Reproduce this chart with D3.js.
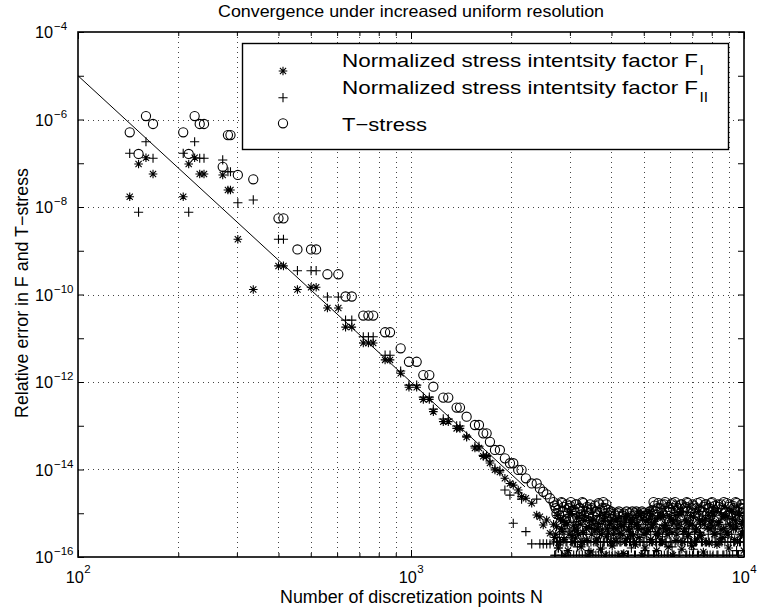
<!DOCTYPE html>
<html><head><meta charset="utf-8">
<script src="https://cdn.jsdelivr.net/npm/d3@7"></script>
<style>body{margin:0;background:#fff}svg{display:block}</style>
</head><body><svg id="c" width="757" height="614"></svg>
<script>
// ---------- data ----------
const pointsN = [143,152,160,168,207,215,224,232,239,272,282,287,302,336,400,414,456,501,519,561,605,636,664,719,745,770,836,865,931,986,1040,1089,1135,1167,1250,1294,1371,1403,1469,1556,1600,1648,1687,1726,1787,1849,1914,1982,2028,2099,2148,2213,2304,2385,2438,2495,2555,2615,
2680,2720,2750,2790,2830,2860,2900,2940,2980,3020,3060,3100,3140,3180,3220,3270,3310,3360,3400,3450,3490,3540,3590,3640,3680,3730,3780,3830,3890,3940,3990,4050,4100,4160,4210,4270,4330,4380,4440,4500,4560,4620,4690,4750,4810,4880,4940,5010,5080,5140,5210,5280,5350,5430,5500,5570,5650,5730,5800,5880,5960,6040,6120,6210,6290,6380,6460,6550,6640,6730,6820,6910,7010,7100,7200,7300,7400,7500,7600,7700,7810,7910,8020,8130,8240,8350,8470,8580,8700,8820,8940,9060,9180,9310,9440,9560,9690,9830,9960,
2700,2735,2770,2810,2845,2880,2920,2960,3000,3040,3080,3120,3160,3200,3245,3290,3335,3380,3425,3470,3515,3565,3615,3660,3705,3755,3805,3860,3915,3965,4020,4075,4130,4185,4240,4300,4355,4410,4470,4530,4590,4655,4720,4780,4845,4910,4975,5045,5110,5175,5245,5315,5390,5465,5535,5610,5690,5765,5840,5920,6000,6080,6165,6250,6335,6420,6505,6595,6685,6775,6865,6960,7055,7150,7250,7350,7450,7550,7650,7755,7860,7965,8075,8185,8295,8410,8525,8640,8760,8880,9000,9120,9245,9375,9500,9625,9760,9895,9990];

const errFI = [1.72e-8,9.6e-8,1.34e-7,5.7e-8,1.72e-8,9.6e-8,1.34e-7,5.7e-8,5.7e-8,5.4e-8,2.45e-8,2.45e-8,1.83e-9,1.3e-10,4.5e-10,4.5e-10,1.3e-10,1.46e-10,1.46e-10,4.9e-11,4.9e-11,1.8e-11,1.8e-11,7.8e-12,7.8e-12,7.8e-12,3.2e-12,3.2e-12,1.58e-12,7.6e-13,7.6e-13,4.0e-13,4.0e-13,2.1e-13,1.24e-13,1.24e-13,8.7e-14,8.7e-14,5.5e-14,3.1e-14,3.1e-14,2.0e-14,2.0e-14,1.41e-14,9.8e-15,8.8e-15,6.3e-15,4.8e-15,4.4e-15,3.4e-15,2.4e-15,2.2e-15,1.69e-15,9.1e-16,8.3e-16,5.4e-16,7.0e-16,3.5e-16,
5.6e-16,3.3e-16,8.9e-16,2.2e-16,4.4e-16,6.7e-16,1.1e-16,5.6e-16,3.3e-16,1.1e-15,
2.2e-16,4.4e-16,7.8e-16,3.3e-16,5.6e-16,2.2e-16,8.9e-16,4.4e-16,1.1e-16,6.7e-16,
3.3e-16,5.6e-16,2.2e-16,4.4e-16,8.9e-16,3.3e-16,6.7e-16,1.1e-16,4.4e-16,5.6e-16,
2.2e-16,3.3e-16,6.7e-16,4.4e-16,1.1e-16,5.6e-16,3.3e-16,2.2e-16,7.8e-16,4.4e-16,
3.3e-16,6.7e-16,2.2e-16,5.6e-16,4.4e-16,8.9e-16,1.1e-16,3.3e-16,6.7e-16,4.4e-16,
1.1e-15,2.2e-16,5.6e-16,3.3e-16,7.8e-16,4.4e-16,2.2e-16,8.9e-16,5.6e-16,3.3e-16,
4.4e-16,6.7e-16,1.1e-16,8.9e-16,3.3e-16,5.6e-16,1.1e-15,2.2e-16,4.4e-16,6.7e-16,
3.3e-16,8.9e-16,5.6e-16,2.2e-16,4.4e-16,1.1e-15,3.3e-16,6.7e-16,5.6e-16,2.2e-16,
8.9e-16,4.4e-16,6.7e-16,3.3e-16,1.1e-15,5.6e-16,2.2e-16,7.8e-16,4.4e-16,8.9e-16,
3.3e-16,5.6e-16,1.1e-15,4.4e-16,6.7e-16,2.2e-16,8.9e-16,5.6e-16,3.3e-16,
2.8e-16,4.9e-16,1.6e-16,7.1e-16,3.8e-16,2.5e-16,6.2e-16,1.4e-16,9.5e-16,3.1e-16,
5.3e-16,2.7e-16,4.1e-16,8.2e-16,1.7e-16,3.6e-16,6.8e-16,2.4e-16,4.7e-16,1.3e-16,
7.4e-16,3.9e-16,2.6e-16,5.8e-16,1.5e-16,4.3e-16,9.1e-16,2.9e-16,3.5e-16,6.4e-16,
1.8e-16,4.6e-16,2.3e-16,7.6e-16,3.4e-16,5.1e-16,1.2e-16,8.4e-16,2.7e-16,4.2e-16,
6.1e-16,3.2e-16,1.9e-16,5.5e-16,2.8e-16,9.8e-16,4.4e-16,1.6e-16,3.7e-16,7.2e-16,
2.5e-16,4.8e-16,6.6e-16,1.4e-16,3.3e-16,8.7e-16,2.2e-16,5.2e-16,4.1e-16,1.7e-16,
7.8e-16,3.6e-16,5.9e-16,2.4e-16,4.5e-16,9.3e-16,1.5e-16,3.8e-16,6.3e-16,2.9e-16,
5.4e-16,1.8e-16,8.1e-16,4.2e-16,2.6e-16,6.9e-16,3.1e-16,1.3e-16,7.5e-16,4.6e-16,
2.1e-16,5.7e-16,9.6e-16,3.4e-16,1.9e-16,6.2e-16,4.3e-16,2.8e-16,8.5e-16,3.7e-16,
1.6e-16,5.1e-16,7.3e-16,2.5e-16,4.9e-16,1.0e-15,3.2e-16,6.5e-16,1.4e-16];

const errFII = [1.69e-7,7.6e-9,3.1e-7,1.3e-7,1.69e-7,7.6e-9,3.1e-7,1.3e-7,1.3e-7,1.19e-7,6.4e-8,6.4e-8,1.25e-8,1.45e-8,1.83e-9,1.83e-9,3.5e-10,3.5e-10,3.5e-10,8.8e-11,8.8e-11,2.6e-11,2.6e-11,1.08e-11,1.08e-11,1.08e-11,4.1e-12,4.1e-12,1.78e-12,8.5e-13,8.5e-13,4.5e-13,4.5e-13,2.4e-13,1.43e-13,1.43e-13,9.9e-14,9.9e-14,5.8e-14,3.4e-14,3.4e-14,2.1e-14,2.1e-14,1.56e-14,1.08e-14,9.5e-15,3.4e-15,2.6e-15,5.9e-16,2.9e-15,2.1e-15,3.8e-16,2.0e-16,2.1e-15,2.0e-16,2.0e-16,2.0e-16,2.0e-16,
2.2e-16,1.1e-16,2.2e-16,3.3e-16,1.1e-16,2.2e-16,4.4e-16,2.2e-16,1.1e-16,2.2e-16,
3.3e-16,2.2e-16,1.1e-16,5.6e-16,2.2e-16,1.1e-16,2.2e-16,3.3e-16,2.2e-16,1.1e-16,
4.4e-16,2.2e-16,1.1e-16,2.2e-16,3.3e-16,1.1e-16,2.2e-16,6.7e-16,2.2e-16,1.1e-16,
2.2e-16,4.4e-16,1.1e-16,2.2e-16,3.3e-16,2.2e-16,1.1e-16,5.6e-16,2.2e-16,1.1e-16,
2.2e-16,3.3e-16,1.1e-16,2.2e-16,4.4e-16,2.2e-16,1.1e-16,2.2e-16,3.3e-16,1.1e-16,
2.2e-16,5.6e-16,1.1e-16,2.2e-16,3.3e-16,2.2e-16,1.1e-16,4.4e-16,2.2e-16,1.1e-16,
3.3e-16,2.2e-16,1.1e-16,2.2e-16,6.7e-16,1.1e-16,2.2e-16,3.3e-16,2.2e-16,1.1e-16,
4.4e-16,2.2e-16,1.1e-16,3.3e-16,2.2e-16,1.1e-16,5.6e-16,2.2e-16,1.1e-16,2.2e-16,
3.3e-16,1.1e-16,2.2e-16,4.4e-16,2.2e-16,1.1e-16,3.3e-16,2.2e-16,1.1e-16,5.6e-16,
2.2e-16,1.1e-16,3.3e-16,2.2e-16,4.4e-16,1.1e-16,2.2e-16,3.3e-16,2.2e-16,
1.1e-16,2.2e-16,1.6e-16,2.2e-16,1.1e-16,2.8e-16,2.2e-16,1.1e-16,3.9e-16,2.2e-16,
1.1e-16,2.2e-16,1.7e-16,1.1e-16,2.2e-16,3.3e-16,1.1e-16,2.2e-16,1.4e-16,2.2e-16,
1.1e-16,4.4e-16,2.2e-16,1.1e-16,2.2e-16,1.6e-16,2.2e-16,1.1e-16,3.3e-16,2.2e-16,
1.1e-16,2.2e-16,2.7e-16,1.1e-16,2.2e-16,1.1e-16,4.9e-16,2.2e-16,1.1e-16,2.2e-16,
1.6e-16,2.2e-16,1.1e-16,3.3e-16,2.2e-16,1.1e-16,2.2e-16,1.4e-16,2.2e-16,1.1e-16,
3.8e-16,2.2e-16,1.1e-16,2.2e-16,1.1e-16,2.2e-16,2.9e-16,1.1e-16,2.2e-16,1.1e-16,
2.2e-16,1.7e-16,1.1e-16,4.4e-16,2.2e-16,1.1e-16,2.2e-16,3.3e-16,1.1e-16,2.2e-16,
1.1e-16,2.2e-16,1.5e-16,2.2e-16,1.1e-16,3.6e-16,2.2e-16,1.1e-16,2.2e-16,1.1e-16,
2.2e-16,4.8e-16,1.1e-16,2.2e-16,1.1e-16,2.2e-16,2.6e-16,1.1e-16,2.2e-16,1.1e-16,
3.3e-16,2.2e-16,1.1e-16,2.2e-16,1.4e-16,1.1e-16,2.2e-16,3.9e-16,2.2e-16];

const errT = [5.1e-7,1.63e-7,1.2e-6,7.9e-7,5.1e-7,1.63e-7,1.2e-6,7.9e-7,7.9e-7,8.3e-8,4.4e-7,4.4e-7,5.4e-8,4.3e-8,5.5e-9,5.5e-9,1.07e-9,1.07e-9,1.07e-9,2.9e-10,2.9e-10,9.0e-11,9.0e-11,3.3e-11,3.3e-11,3.3e-11,1.37e-11,1.37e-11,5.9e-12,2.9e-12,2.9e-12,1.44e-12,1.44e-12,7.8e-13,4.4e-13,4.4e-13,2.6e-13,2.6e-13,1.61e-13,1.04e-13,1.04e-13,6.7e-14,6.7e-14,4.3e-14,2.8e-14,2.8e-14,1.8e-14,1.39e-14,1.39e-14,9.8e-15,9.8e-15,6.3e-15,4.8e-15,4.8e-15,3.7e-15,3.1e-15,2.7e-15,2.2e-15,
1.8e-15,1.3e-15,1.6e-15,8.9e-16,1.8e-15,1.1e-15,6.7e-16,1.6e-15,1.3e-15,1.8e-15,
7.8e-16,1.1e-15,1.6e-15,4.4e-16,1.3e-15,1.8e-15,8.9e-16,1.1e-15,6.7e-16,1.6e-15,
1.3e-15,5.6e-16,1.1e-15,8.9e-16,1.6e-15,4.4e-16,1.8e-15,1.3e-15,6.7e-16,8.9e-16,
1.1e-15,5.6e-16,8.9e-16,4.4e-16,1.1e-15,6.7e-16,8.9e-16,3.3e-16,1.1e-15,7.8e-16,
5.6e-16,1.1e-15,8.9e-16,1.1e-15,6.7e-16,8.9e-16,1.1e-15,4.4e-16,8.9e-16,7.8e-16,
1.1e-15,6.7e-16,1.8e-15,1.1e-15,1.3e-15,4.4e-16,1.6e-15,8.9e-16,1.8e-15,1.1e-15,
6.7e-16,1.6e-15,1.3e-15,1.8e-15,5.6e-16,1.1e-15,1.6e-15,8.9e-16,1.3e-15,1.8e-15,
4.4e-16,1.1e-15,1.6e-15,6.7e-16,1.3e-15,8.9e-16,1.8e-15,1.1e-15,5.6e-16,1.6e-15,
1.3e-15,8.9e-16,1.8e-15,6.7e-16,1.1e-15,1.6e-15,4.4e-16,1.3e-15,1.8e-15,1.1e-15,
8.9e-16,1.6e-15,6.7e-16,1.3e-15,1.8e-15,1.1e-15,5.6e-16,1.6e-15,1.3e-15,
1.5e-15,9.7e-16,1.2e-15,6.1e-16,1.7e-15,1.4e-15,7.3e-16,1.0e-15,1.5e-15,5.2e-16,
1.2e-15,1.6e-15,8.1e-16,1.3e-15,9.4e-16,1.7e-15,6.3e-16,1.4e-15,1.0e-15,1.2e-15,
8.5e-16,1.5e-15,1.1e-15,1.7e-15,7.2e-16,1.3e-15,9.6e-16,1.6e-15,1.2e-15,1.0e-15,
7.4e-16,9.8e-16,5.9e-16,1.0e-15,8.2e-16,6.6e-16,9.9e-16,7.7e-16,4.9e-16,1.0e-15,
8.6e-16,6.2e-16,1.0e-15,7.5e-16,9.3e-16,5.4e-16,1.0e-15,8.8e-16,6.9e-16,9.5e-16,
7.8e-16,1.2e-15,1.5e-15,9.2e-16,1.7e-15,1.3e-15,1.0e-15,1.6e-15,7.6e-16,1.4e-15,
1.2e-15,1.7e-15,9.1e-16,1.5e-15,1.3e-15,7.9e-16,1.6e-15,1.1e-15,1.4e-15,1.7e-15,
8.4e-16,1.3e-15,1.5e-15,1.0e-15,1.7e-15,1.2e-15,6.8e-16,1.4e-15,1.6e-15,9.7e-16,
1.3e-15,1.7e-15,1.1e-15,1.5e-15,8.3e-16,1.4e-15,1.6e-15,1.2e-15,1.0e-15,1.7e-15,
1.4e-15,9.6e-16,1.5e-15,1.2e-15,1.7e-15,7.4e-16,1.3e-15,1.6e-15,1.1e-15];

const refLineN = [100, 2200];
const refLineErr = [1e-5, 4.0e-15];

const xMajorTicks = [100, 1000, 10000];
const xMajorExp = ["2", "3", "4"];
const xMinorTicks = [200,300,400,500,600,700,800,900,2000,3000,4000,5000,6000,7000,8000,9000];
const yMajorTicks = [1e-16,1e-14,1e-12,1e-10,1e-8,1e-6,1e-4];
const yMajorExp = ["\u221216","\u221214","\u221212","\u221210","\u22128","\u22126","\u22124"];
const yMinorTicks = [1e-15,1e-13,1e-11,1e-9,1e-7,1e-5];

const titleText = "Convergence under increased uniform resolution";
const xLabelText = "Number of discretization points N";
const yLabelText = "Relative error in F and T\u2212stress";
const legendMain = ["Normalized stress intentsity factor F", "Normalized stress intentsity factor F", "T\u2212stress"];
const legendSub = ["I", "II", ""];

// ---------- drawing ----------
const FONT = '"Liberation Sans", Arial, Helvetica, sans-serif';
const L = 78, R = 744, T = 32, B = 557;
const svg = d3.select("#c").style("font-family", FONT);
const x = d3.scaleLog().domain([100, 10000]).range([L, R]);
const y = d3.scaleLog().domain([1e-16, 1e-4]).range([B, T]);
const px = v => Math.round(v) + 0.5;

svg.append("rect").attr("width", 757).attr("height", 614).attr("fill", "#fff");
svg.append("defs").append("clipPath").attr("id", "clip")
  .append("rect").attr("x", L).attr("y", T).attr("width", R - L).attr("height", B - T);

// grid
const grid = svg.append("g").attr("stroke", "#444").attr("stroke-width", 1).attr("stroke-dasharray", "1,4");
grid.selectAll("line.v").data(xMinorTicks.concat([1000])).join("line")
  .attr("x1", d => px(x(d))).attr("x2", d => px(x(d))).attr("y1", T).attr("y2", B);
grid.selectAll("line.h").data(yMajorTicks.slice(1, -1)).join("line")
  .attr("y1", d => px(y(d))).attr("y2", d => px(y(d))).attr("x1", L).attr("x2", R);

// ticks (inward) via d3 axes
function ticks(axisGen, transform) {
  const g = svg.append("g").attr("transform", transform).call(axisGen);
  g.select(".domain").remove();
  g.selectAll("text").remove();
  g.selectAll("line").attr("stroke", "#000").attr("stroke-width", 1);
}
ticks(d3.axisBottom(x).tickValues(xMajorTicks).tickSize(-7).tickSizeOuter(0), `translate(0,${B})`);
ticks(d3.axisBottom(x).tickValues(xMinorTicks).tickSize(-4).tickSizeOuter(0), `translate(0,${B})`);
ticks(d3.axisTop(x).tickValues(xMajorTicks).tickSize(-7).tickSizeOuter(0), `translate(0,${T})`);
ticks(d3.axisTop(x).tickValues(xMinorTicks).tickSize(-4).tickSizeOuter(0), `translate(0,${T})`);
ticks(d3.axisLeft(y).tickValues(yMajorTicks.concat(yMinorTicks)).tickSize(-6).tickSizeOuter(0), `translate(${L},0)`);
ticks(d3.axisRight(y).tickValues(yMajorTicks.concat(yMinorTicks)).tickSize(-6).tickSizeOuter(0), `translate(${R},0)`);

// data
const plot = svg.append("g").attr("clip-path", "url(#clip)")
  .attr("fill", "none").attr("stroke", "#000").attr("stroke-width", 1.1);
const sS = 4.3, aS = 3.1, sP = 4.6, rC = 4.6;
const starPath = `M${-sS},0H${sS}M0,${-sS}V${sS}M${-aS},${-aS}L${aS},${aS}M${-aS},${aS}L${aS},${-aS}`;
const plusPath = `M${-sP},0H${sP}M0,${-sP}V${sP}`;

const idx = d3.range(pointsN.length);
plot.append("g").selectAll("path").data(idx.filter(i => errFI[i] > 0)).join("path")
  .attr("d", starPath).attr("transform", i => `translate(${x(pointsN[i])},${y(errFI[i])})`);
plot.append("g").selectAll("path").data(idx.filter(i => errFII[i] > 0)).join("path")
  .attr("d", plusPath).attr("transform", i => `translate(${x(pointsN[i])},${y(errFII[i])})`);
plot.append("g").selectAll("circle").data(idx.filter(i => errT[i] > 0)).join("circle")
  .attr("r", rC).attr("cx", i => x(pointsN[i])).attr("cy", i => y(errT[i]));
plot.append("path").attr("stroke-width", 1)
  .attr("d", d3.line().x((d, i) => x(refLineN[i])).y(d => y(d))(refLineErr));

// box
svg.append("rect").attr("x", L).attr("y", T).attr("width", R - L).attr("height", B - T)
  .attr("fill", "none").attr("stroke", "#000").attr("stroke-width", 1.6);

// tick labels
const tl = svg.append("g").attr("fill", "#000");
yMajorTicks.forEach((v, i) => {
  const yy = y(v);
  tl.append("text").attr("x", 53).attr("y", yy + 6).attr("text-anchor", "end")
    .attr("font-size", 16.3).text("10");
  tl.append("text").attr("x", 54).attr("y", yy - 2).attr("font-size", 11.5).text(yMajorExp[i]);
});
xMajorTicks.forEach((v, i) => {
  const xx = x(v);
  const w10 = 18.1, wE = 6.4;
  const x0 = xx - (w10 + wE) / 2;
  tl.append("text").attr("x", x0).attr("y", 583).attr("font-size", 16.3).text("10");
  tl.append("text").attr("x", x0 + w10 + 0.3).attr("y", 573).attr("font-size", 11.5).text(xMajorExp[i]);
});

// titles
svg.append("text").attr("x", 411).attr("y", 17.3).attr("text-anchor", "middle")
  .attr("font-size", 16.5).attr("textLength", 386).attr("lengthAdjust", "spacingAndGlyphs").text(titleText);
svg.append("text").attr("x", 411.5).attr("y", 603.3).attr("text-anchor", "middle")
  .attr("font-size", 17.6).attr("textLength", 263).attr("lengthAdjust", "spacingAndGlyphs").text(xLabelText);
svg.append("text").attr("transform", "translate(27.5,293) rotate(-90)").attr("text-anchor", "middle")
  .attr("font-size", 17.6).attr("textLength", 250).attr("lengthAdjust", "spacingAndGlyphs").text(yLabelText);

// legend
const lg = svg.append("g");
lg.append("rect").attr("x", 242.5).attr("y", 43.5).attr("width", 486).attr("height", 106)
  .attr("fill", "#fff").attr("stroke", "#000").attr("stroke-width", 1.4);
const rowMarkerY = [71, 97.7, 123.3];
const rowTextY = [67, 94, 131];
const rowTextLen = [356, 356, 85];
const mk = lg.append("g").attr("fill", "none").attr("stroke", "#000").attr("stroke-width", 1.1);
mk.append("path").attr("d", starPath).attr("transform", `translate(283,${rowMarkerY[0]})`);
mk.append("path").attr("d", plusPath).attr("transform", `translate(283,${rowMarkerY[1]})`);
mk.append("circle").attr("r", rC).attr("cx", 283).attr("cy", rowMarkerY[2]);
legendMain.forEach((t, i) => {
  lg.append("text").attr("x", 342).attr("y", rowTextY[i]).attr("font-size", 18.5)
    .attr("textLength", rowTextLen[i]).attr("lengthAdjust", "spacingAndGlyphs").text(t);
  if (legendSub[i]) {
    lg.append("text").attr("x", 699.5).attr("y", rowTextY[i] + 7.5).attr("font-size", 15.5)
      .text(legendSub[i]);
  }
});
</script>
</body></html>
